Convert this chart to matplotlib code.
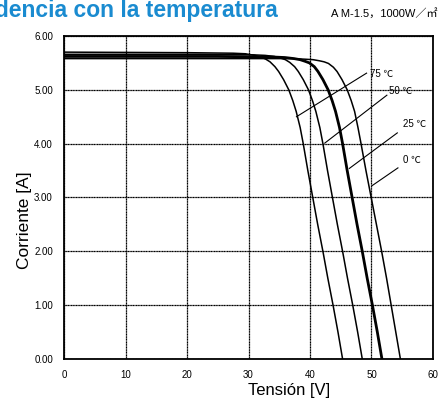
import numpy as np
import matplotlib
matplotlib.use("Agg")
import matplotlib.pyplot as plt

plt.rcParams['font.family'] = ['Liberation Sans', 'Noto Sans CJK JP', 'DejaVu Sans']

# I-V curves (voltage V, current A)
v_75 = [0, 20, 27.5, 29.5, 31.0, 32.0, 32.8, 33.5, 34.3, 34.9, 35.7, 36.55, 37.2, 37.75, 38.4,
        38.9, 39.65, 40.45, 41.25, 42.1, 42.9, 43.75, 44.55, 45.3]
i_75 = [5.70, 5.69, 5.68, 5.67, 5.64, 5.61, 5.57, 5.52, 5.43, 5.34, 5.19, 5.00, 4.80, 4.60, 4.30,
        4.00, 3.50, 3.00, 2.50, 2.00, 1.50, 1.00, 0.50, 0.00]

v_50 = [0, 22, 30.7, 32.7, 34.2, 35.2, 36.0, 36.7, 37.5, 38.1, 38.9, 39.75, 40.4, 40.95, 41.6,
        42.1, 42.85, 43.65, 44.45, 45.3, 46.1, 46.95, 47.75, 48.5]
i_50 = [5.66, 5.66, 5.65, 5.64, 5.62, 5.59, 5.56, 5.51, 5.43, 5.34, 5.19, 5.00, 4.80, 4.60, 4.30,
        4.00, 3.50, 3.00, 2.50, 2.00, 1.50, 1.00, 0.50, 0.00]

v_25 = [0, 25, 33.9, 35.9, 37.4, 38.4, 39.2, 39.9, 40.7, 41.3, 42.1, 42.95, 43.6, 44.15, 44.8,
        45.3, 46.05, 46.85, 47.65, 48.5, 49.3, 50.15, 50.95, 51.7]
i_25 = [5.62, 5.62, 5.61, 5.60, 5.58, 5.56, 5.53, 5.50, 5.43, 5.34, 5.19, 5.00, 4.80, 4.60, 4.30,
        4.00, 3.50, 3.00, 2.50, 2.00, 1.50, 1.00, 0.50, 0.00]

v_0 = [0, 28, 37.0, 39.0, 40.5, 41.5, 42.3, 43.0, 43.8, 44.4, 45.2, 46.05, 46.7, 47.25, 47.8,
       48.3, 49.1, 49.95, 50.8, 51.65, 52.45, 53.2, 53.95, 54.7]
i_0 = [5.58, 5.58, 5.58, 5.57, 5.56, 5.54, 5.52, 5.49, 5.42, 5.34, 5.19, 5.00, 4.80, 4.60, 4.30,
       4.00, 3.50, 3.00, 2.50, 2.00, 1.50, 1.00, 0.50, 0.00]

curve_labels = ["75 ℃", "50 ℃", "25 ℃", "0 ℃"]
# leader line: point on curve -> end near text, then text position
lead_start = [(37.8, 4.50), (42.4, 4.01), (46.4, 3.54), (50.1, 3.22)]
lead_end = [(49.2, 5.31), (52.5, 4.90), (54.2, 4.20), (54.3, 3.55)]
text_pos = [(49.7, 5.30), (52.8, 4.98), (55.1, 4.37), (55.1, 3.69)]

x_ticks = [0, 10, 20, 30, 40, 50, 60]
y_ticks = [0, 1, 2, 3, 4, 5, 6]

fig = plt.figure(figsize=(4.43, 4.03), dpi=100)
ax = fig.add_axes([0.1445, 0.1092, 0.8329, 0.8015])

curves = [(v_75, i_75, 1.1), (v_50, i_50, 1.1), (v_25, i_25, 2.0), (v_0, i_0, 1.1)]
for v, i, lw in curves:
    ax.plot(v, i, color='black', lw=lw, solid_joinstyle='round', zorder=3)

for (x0, y0), (x1, y1), (tx, ty), lab in zip(lead_start, lead_end, text_pos, curve_labels):
    ax.plot([x0, x1], [y0, y1], color='black', lw=0.8, zorder=3)
    ax.text(tx, ty, lab, fontsize=7, ha='left', va='center')

ax.set_xlim(0, 60)
ax.set_ylim(0, 6)
ax.set_xticks(x_ticks)
ax.set_yticks(y_ticks)
ax.set_xticklabels([str(t) for t in x_ticks], fontsize=7)
ax.set_yticklabels([f"{t:.2f}" for t in y_ticks], fontsize=7)
ax.tick_params(length=0, pad=8)
ax.grid(True, color='black', lw=0.9, linestyle=(0, (1, 0.3)))
for s in ax.spines.values():
    s.set_linewidth(1.3)

ax.set_xlabel("Tensión [V]", fontsize=12)
ax.set_ylabel("Corriente [A]", fontsize=12.5)
ax.xaxis.set_label_coords(0.61, -0.075)
ax.yaxis.set_label_coords(-0.086, 0.43)

fig.text(0.627, 0.975, "Dependencia con la temperatura", fontsize=16.5,
         fontweight='bold', color='#1a8bd0', ha='right', va='center')
fig.text(0.988, 0.966, "A M-1.5，1000W／㎡", fontsize=8, ha='right', va='center')

fig.savefig("out.png", dpi=100)
